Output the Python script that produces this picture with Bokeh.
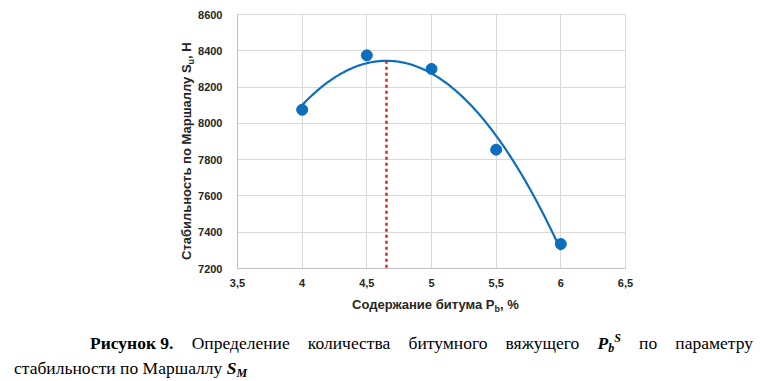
import numpy as np
from bokeh.plotting import figure
from bokeh.models import FixedTicker, Range1d, Div
from bokeh.layouts import column
from bokeh.embed import file_html
from bokeh.resources import INLINE

# ---- data ----
bitumen = [4.0, 4.5, 5.0, 5.5, 6.0]
stability = [8075, 8375, 8300, 7855, 7335]
x_ticks = [3.5, 4.0, 4.5, 5.0, 5.5, 6.0, 6.5]
x_tick_labels = ["3,5", "4", "4,5", "5", "5,5", "6", "6,5"]
y_ticks = [7200, 7400, 7600, 7800, 8000, 8200, 8400, 8600]
y_tick_labels = [str(v) for v in y_ticks]

# second-order trendline (as in the source chart) and its maximum
coef = np.polyfit(bitumen, stability, 2)
xs = np.linspace(min(bitumen), max(bitumen), 200)
ys = np.polyval(coef, xs)
x_opt = -coef[1] / (2 * coef[0])
y_opt = float(np.polyval(coef, x_opt))

BLUE = "#0d6ebd"
RED = "#e3202b"
GRID = "#d9d9d9"
FONT = "Liberation Sans"

p = figure(frame_width=388, frame_height=254,
           min_border_left=237, min_border_right=135,
           min_border_top=14, min_border_bottom=58,
           x_range=Range1d(x_ticks[0], x_ticks[-1]),
           y_range=Range1d(y_ticks[0], y_ticks[-1]),
           output_backend="svg", toolbar_location=None)
p.background_fill_color = "white"
p.border_fill_color = "white"
p.outline_line_color = GRID

p.xaxis.ticker = FixedTicker(ticks=x_ticks)
p.yaxis.ticker = FixedTicker(ticks=y_ticks)
p.xaxis.major_label_overrides = {t: l for t, l in zip(x_ticks, x_tick_labels)}
p.yaxis.major_label_overrides = {t: l for t, l in zip(y_ticks, y_tick_labels)}
for ax in (p.xaxis, p.yaxis):
    ax.axis_line_color = "#bfbfbf"
    ax.major_tick_line_color = None
    ax.minor_tick_line_color = None
    ax.major_tick_out = 0
    ax.major_tick_in = 0
    ax.major_label_text_font = FONT
    ax.major_label_text_font_style = "bold"
    ax.major_label_text_font_size = "11px"
    ax.major_label_text_color = "#262626"
p.xaxis.major_label_standoff = 10
p.yaxis.major_label_standoff = 15
p.xgrid.grid_line_color = GRID
p.ygrid.grid_line_color = GRID

p.line(xs, ys, line_color=BLUE, line_width=2.2)
p.scatter(bitumen, stability, size=11, fill_color=BLUE, line_color=BLUE)
p.segment(x0=[x_opt], y0=[y_opt], x1=[x_opt], y1=[y_ticks[0]],
          line_color=RED, line_width=2.5, line_dash="3 3")

# axis titles (HTML, to allow subscripts) + figure caption
title_style = ("position:absolute;white-space:nowrap;font-family:'Liberation Sans';"
               "font-weight:bold;font-size:13px;line-height:15px;color:#262626;")
sub_style = "font-size:9px;line-height:0;vertical-align:-3px;"
x_title = ('<div style="' + title_style + 'left:347px;top:-34px;">'
           'Содержание битума P<span style="' + sub_style + '">b</span>, %</div>')
y_title = ('<div style="' + title_style + 'left:174px;top:-71px;'
           'transform-origin:0 0;transform:rotate(-90deg);">'
           'Стабильность по Маршаллу S<span style="' + sub_style + '">u</span>, Н</div>')

cap_sub = "font-size:12px;line-height:0;vertical-align:-3px;"
cap_sup = "font-size:12px;line-height:0;vertical-align:7px;"
caption_html = (
    '<div style="position:relative;width:748px;padding:0 0 0 9px;'
    'font-family:\'Liberation Serif\';font-size:17.5px;line-height:25px;color:#000;">'
    + x_title + y_title +
    '<div style="text-align:justify;text-align-last:justify;text-indent:76px;">'
    '<b style="display:inline-block;text-indent:0;">Рисунок 9.</b> Определение количества битумного вяжущего '
    '<b><i>P<span style="' + cap_sub + '">b</span><span style="' + cap_sup + '">S</span></i></b>'
    ' по параметру</div>'
    '<div>стабильности по Маршаллу '
    '<b><i>S<span style="' + cap_sub + '">M</span></i></b></div>'
    '</div>')

caption = Div(text=caption_html, width=760, height=47)

layout = column(p, caption, spacing=0)
open("out.html", "w").write(file_html(layout, INLINE))
